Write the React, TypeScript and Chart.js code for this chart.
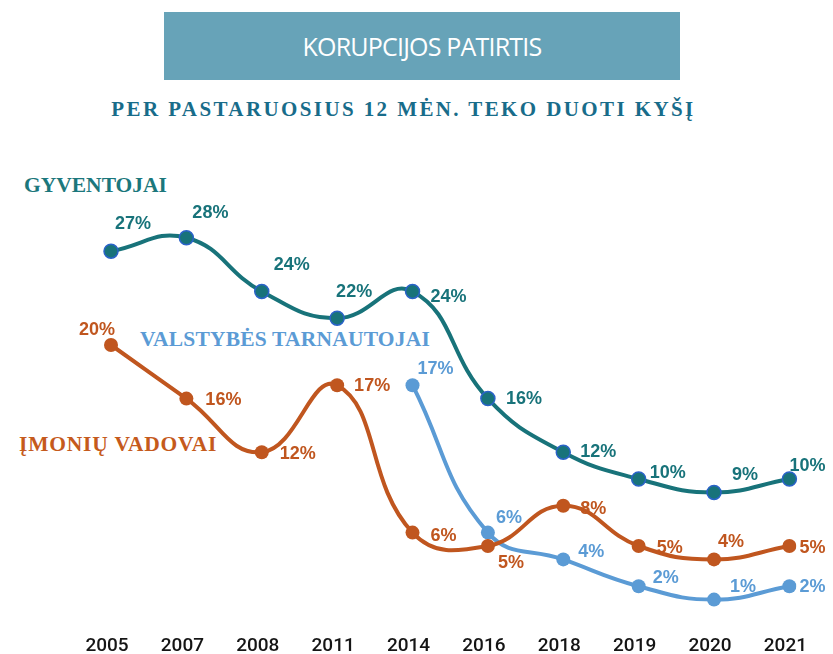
import React, { useEffect, useRef } from "react";
import { Chart, registerables } from "chart.js";

Chart.register(...registerables);

const years = ["2005", "2007", "2008", "2011", "2014", "2016", "2018", "2019", "2020", "2021"];
const gyventojai = [27, 28, 24, 22, 24, 16, 12, 10, 9, 10];
const imoniuVadovai = [20, 16, 12, 17, 6, 5, 8, 5, 4, 5];
const valstybesTarnautojai = [null, null, null, null, 17, 6, 4, 2, 1, 2];

// label offsets (style only): [dx, dy] from each point
const gyvOffsets = [[22, -27], [24, -25], [30, -26], [17, -26], [36, 6], [36, 0], [35, 0], [29, -6], [31, -17], [18, -13]];
const imOffsets = [[-14, -15], [37, 1], [36, 2], [35, 1], [31, 3], [23, 17], [30, 3], [31, 2], [17, -17], [23, 2]];
const valOffsets = [[0, 0], [0, 0], [0, 0], [0, 0], [23, -16], [21, -15], [28, -7], [27, -8], [29, -13], [23, 1]];

const TEAL = "#18737a";
const ORANGE = "#c0561f";
const LBLUE = "#5b9bd5";

const labelPlugin = {
  id: "pointLabels",
  afterDatasetsDraw(chart: any) {
    const ctx = chart.ctx;
    ctx.save();
    ctx.font = "bold 18px 'Liberation Sans', Arial, sans-serif";
    ctx.textAlign = "center";
    ctx.textBaseline = "middle";
    chart.data.datasets.forEach((ds: any, i: number) => {
      const meta = chart.getDatasetMeta(i);
      const offs = ds.labelOffsets;
      meta.data.forEach((pt: any, j: number) => {
        const v = ds.data[j];
        if (v === null || v === undefined) return;
        const [dx, dy] = offs[j];
        ctx.fillStyle = ds.labelColor;
        ctx.fillText(v + "%", pt.x + dx, pt.y + dy);
      });
    });
    ctx.restore();
  },
};

export default function App() {
  const ref = useRef<HTMLCanvasElement | null>(null);
  useEffect(() => {
    if (!ref.current) return;
    const chart = new Chart(ref.current, {
      type: "line",
      data: {
        labels: years,
        datasets: [
          {
            label: "Gyventojai",
            data: gyventojai,
            borderColor: TEAL,
            backgroundColor: TEAL,
            pointBackgroundColor: TEAL,
            pointBorderColor: "#2a63c8",
            pointBorderWidth: 1.5,
            pointRadius: 7,
            borderWidth: 4,
            tension: 0.45,
            order: 0,
            labelOffsets: gyvOffsets,
            labelColor: TEAL,
          } as any,
          {
            label: "Įmonių vadovai",
            data: imoniuVadovai,
            borderColor: ORANGE,
            backgroundColor: ORANGE,
            pointBackgroundColor: ORANGE,
            pointBorderColor: ORANGE,
            pointBorderWidth: 0,
            pointRadius: 7,
            borderWidth: 4,
            tension: 0.45,
            order: 1,
            labelOffsets: imOffsets,
            labelColor: ORANGE,
          } as any,
          {
            label: "Valstybės tarnautojai",
            data: valstybesTarnautojai,
            borderColor: LBLUE,
            backgroundColor: LBLUE,
            pointBackgroundColor: LBLUE,
            pointBorderColor: LBLUE,
            pointBorderWidth: 0,
            pointRadius: 7,
            borderWidth: 4,
            tension: 0.45,
            order: 2,
            spanGaps: false,
            labelOffsets: valOffsets,
            labelColor: LBLUE,
          } as any,
        ],
      },
      options: {
        animation: false,
        responsive: false,
        maintainAspectRatio: false,
        layout: { padding: { left: 111, right: 41, top: 211, bottom: 0 } },
        plugins: { legend: { display: false }, tooltip: { enabled: false }, title: { display: false } },
        scales: {
          x: {
            offset: false,
            grid: { display: false, drawTicks: false },
            border: { display: false },
            ticks: {
              color: "#151515",
              padding: 22,
              labelOffset: -4,
              maxRotation: 0,
              autoSkip: false,
              font: { family: "Roboto, 'Liberation Sans', sans-serif", size: 19, weight: "500" as any },
            },
            afterFit: (scale: any) => {
              scale.height = 41;
            },
          },
          y: {
            display: false,
            min: 0,
            max: 30,
          },
        },
      },
      plugins: [labelPlugin],
    });
    return () => chart.destroy();
  }, []);

  const serif = "'Liberation Serif', 'Times New Roman', serif";
  return (
    <div style={{ position: "absolute", left: 0, top: 0, width: 833, height: 654, background: "#fff", overflow: "hidden" }}>
      <div
        style={{
          position: "absolute",
          left: 164,
          top: 12,
          width: 516,
          height: 68,
          background: "#67a3b8",
          color: "#fff",
          display: "flex",
          alignItems: "center",
          justifyContent: "center",
          fontFamily: "'Open Sans', sans-serif",
          fontSize: 25,
          letterSpacing: -0.8,
        }}
      >
        KORUPCIJOS PATIRTIS
      </div>
      <div
        style={{
          position: "absolute",
          left: 0,
          width: 807,
          top: 99,
          textAlign: "center",
          fontFamily: serif,
          fontWeight: "bold",
          fontSize: 21,
          lineHeight: "21px",
          letterSpacing: 2.4,
          color: "#186c8a",
          whiteSpace: "nowrap",
        }}
      >
        PER PASTARUOSIUS 12 MĖN. TEKO DUOTI KYŠĮ
      </div>
      <div style={{ position: "absolute", left: 24, top: 175, fontFamily: serif, fontWeight: "bold", fontSize: 21.5, lineHeight: "21.5px", color: "#1b777c", whiteSpace: "nowrap" }}>
        GYVENTOJAI
      </div>
      <div style={{ position: "absolute", left: 140, top: 329, fontFamily: serif, fontWeight: "bold", fontSize: 21.5, lineHeight: "21.5px", letterSpacing: 0.2, color: LBLUE, whiteSpace: "nowrap" }}>
        VALSTYBĖS TARNAUTOJAI
      </div>
      <div style={{ position: "absolute", left: 19, top: 434, fontFamily: serif, fontWeight: "bold", fontSize: 21.5, lineHeight: "21.5px", letterSpacing: 0.8, color: "#c55a1c", whiteSpace: "nowrap" }}>
        ĮMONIŲ VADOVAI
      </div>
      <canvas ref={ref} width={833} height={654} style={{ position: "absolute", left: 0, top: 0, width: 833, height: 654 }} />
    </div>
  );
}
